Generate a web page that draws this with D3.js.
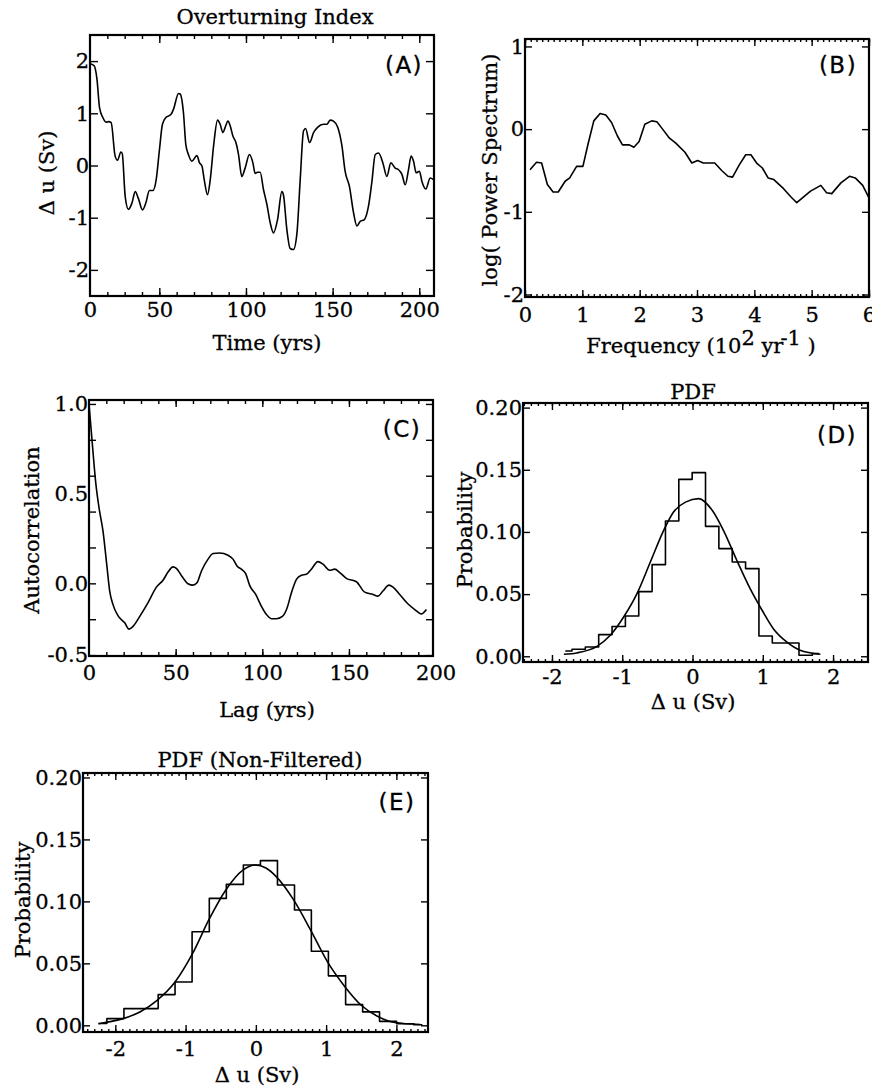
<!DOCTYPE html>
<html>
<head>
<meta charset="utf-8">
<script src="https://cdn.jsdelivr.net/npm/d3@7"></script>
<style>
  body { margin: 0; background: #fff; }
  svg { display: block; }
  text { stroke: #000; stroke-width: 0.3px; }
</style>
</head>
<body>
<div id="chart"></div>
<script>
// (A) overturning index
const timeYrs = [10.2, 12.4, 14.0, 15.5, 17.4, 19.3, 20.7, 22.2, 24.5, 25.9, 27.8, 28.6, 30.3, 32.2, 34.2,
  36.1, 38.0, 40.3, 42.2, 44.3, 46.3, 48.2, 50.1, 51.8, 53.8, 56.8, 58.2, 61.1, 62.0, 63.9, 65.3, 66.8, 68.8,
  71.7, 73.2, 74.6, 75.9, 77.8, 79.4, 81.3, 83.6, 85.1, 86.7, 88.0, 89.6, 90.9, 92.4, 94.2, 95.7, 97.6, 99.5,
  102.0, 104.0, 105.3, 106.6, 108.2, 110.1, 112.1, 114.0, 115.9, 118.2, 120.7, 121.6, 123.6, 125.5, 127.4,
  129.4, 131.3, 133.2, 134.4, 136.7, 139.0, 141.3, 144.7, 146.7, 148.6, 150.5, 153.0, 155.4, 157.2, 159.7,
  162.1, 164.0, 165.9, 168.2, 170.7, 172.6, 174.6, 176.5, 179.0, 181.3, 183.6, 186.1, 188.0, 190.0, 191.9,
  193.8, 195.3, 196.7, 198.2, 200.1, 201.5, 203.8, 206.3, 208.2];
const overturning = [1.95, 1.91, 1.66, 1.11, 0.92, 0.83, 0.84, 0.82, 0.18, 0.10, 0.26, 0.23, -0.59, -0.84, -0.72,
  -0.50, -0.64, -0.85, -0.72, -0.48, -0.48, -0.27, 0.31, 0.79, 0.92, 0.98, 1.08, 1.38, 1.37, 1.02, 0.40, 0.21, 0.08,
  0.19, 0.05, -0.01, -0.27, -0.56, -0.27, 0.37, 0.87, 0.79, 0.63, 0.73, 0.85, 0.76, 0.57, 0.44, 0.21, -0.21, -0.05,
  0.21, 0.05, -0.15, -0.13, -0.13, -0.46, -0.75, -1.10, -1.29, -1.04, -0.50, -0.56, -1.23, -1.59, -1.61,
  -1.30, -0.27, 0.66, 0.71, 0.44, 0.63, 0.73, 0.79, 0.79, 0.87, 0.85, 0.73, 0.37, -0.11, -0.40,
  -0.91, -1.16, -1.07, -1.04, -0.78, -0.33, 0.21, 0.24, 0.05, -0.21, 0.05, -0.05, -0.08, -0.17, -0.37,
  -0.08, 0.18, 0.08, -0.14, -0.11, -0.30, -0.45, -0.24, -0.27];

// (B) power spectrum
const freq = [0.087, 0.20, 0.29, 0.39, 0.49, 0.58, 0.70, 0.78, 0.90, 1.01, 1.10, 1.20, 1.31, 1.41, 1.51,
  1.61, 1.70, 1.82, 1.90, 1.99, 2.09, 2.21, 2.30, 2.40, 2.52, 2.63, 2.79, 2.91, 3.01, 3.11, 3.31, 3.43, 3.54,
  3.62, 3.74, 3.85, 3.94, 4.04, 4.14, 4.24, 4.34, 4.51, 4.64, 4.74, 4.86, 4.98, 5.16, 5.26, 5.35, 5.51, 5.66,
  5.76, 5.89, 6.0];
const logPower = [-0.49, -0.40, -0.41, -0.67, -0.76, -0.76, -0.63, -0.59, -0.45, -0.45, -0.18, 0.10, 0.19, 0.17, 0.08,
  -0.08, -0.19, -0.19, -0.22, -0.15, 0.06, 0.10, 0.09, 0.0, -0.11, -0.17, -0.28, -0.41, -0.38, -0.41, -0.41, -0.50, -0.57,
  -0.58, -0.43, -0.31, -0.31, -0.41, -0.47, -0.59, -0.61, -0.72, -0.82, -0.89, -0.82, -0.75, -0.68, -0.77, -0.78, -0.65, -0.57,
  -0.59, -0.68, -0.83];

// (C) autocorrelation
const lagYrs = [0, 1.9, 3.9, 5.8, 8.1, 10.4, 11.9, 13.9, 16.7, 20.6, 23.1, 25.4, 29.3, 34.0, 38.9, 42.7, 45.6,
  48.5, 50.4, 53.9, 57.1, 60.0, 62.3, 64.9, 68.7, 71.6, 75.4, 80.2, 83.1, 85.4, 87.9, 90.4, 92.7, 96.2, 99.5,
  102.4, 105.2, 108.1, 111.6, 114.3, 116.8, 119.7, 122.6, 125.4, 128.3, 132.1, 135.0, 138.9, 141.8, 144.7,
  148.5, 154.3, 159.1, 163.9, 166.8, 169.6, 173.1, 175.4, 179.3, 184.1, 188.0, 191.8, 194.7];
const autocorr = [1.0, 0.78, 0.56, 0.42, 0.29, 0.09, -0.04, -0.12, -0.18, -0.22, -0.255, -0.24, -0.184, -0.109, -0.021,
  0.017, 0.063, 0.092, 0.084, 0.035, -0.002, -0.01, 0.003, 0.069, 0.135, 0.166, 0.169, 0.157, 0.135, 0.097,
  0.079, 0.054, -0.011, -0.062, -0.128, -0.174, -0.197, -0.197, -0.184, -0.137, -0.053, 0.022, 0.045, 0.05,
  0.079, 0.121, 0.107, 0.073, 0.079, 0.06, 0.028, 0.009, -0.049, -0.062, -0.071, -0.043, -0.01, -0.021,
  -0.062, -0.115, -0.146, -0.171, -0.146];

// (D) PDF, filtered: histogram bin centres / heights, and fitted curve
const binsD = [-1.81, -1.62, -1.43, -1.24, -1.05, -0.86, -0.67, -0.48, -0.29, -0.10,
  0.09, 0.28, 0.47, 0.66, 0.85, 1.04, 1.23, 1.42, 1.61, 1.80];
const histD = [0.0043, 0.0056, 0.0075, 0.0174, 0.024, 0.0324, 0.052, 0.0737, 0.1088, 0.1423,
  0.1477, 0.1045, 0.0866, 0.0758, 0.0705, 0.0163, 0.0107, 0.0107, 0.0008, 0.0021];
const fitXD = [-1.83, -1.65, -1.36, -1.17, -0.98, -0.79, -0.60, -0.41, -0.27, -0.10,
  0.09, 0.28, 0.44, 0.63, 0.82, 0.99, 1.15, 1.34, 1.53, 1.82];
const fitD = [0.0016, 0.0027, 0.008, 0.0169, 0.0316, 0.0504, 0.0758, 0.1013, 0.116, 0.124,
  0.1268, 0.1174, 0.1013, 0.0772, 0.0544, 0.037, 0.0222, 0.0115, 0.0048, 0.0016];

// (E) PDF, non-filtered
const binsE = [-2.24, -2.00, -1.755, -1.51, -1.27, -1.03, -0.785, -0.54, -0.30, -0.055,
  0.185, 0.43, 0.67, 0.91, 1.155, 1.40, 1.64, 1.88, 2.125, 2.37];
const histE = [0.0014, 0.0054, 0.0135, 0.0135, 0.0248, 0.035, 0.0755, 0.1024, 0.1137, 0.1294,
  0.1329, 0.1132, 0.093, 0.0598, 0.0399, 0.0167, 0.0108, 0.0032, 0.0013, 0.0005];
const fitXE = [-2.24, -1.89, -1.65, -1.41, -1.15, -0.90, -0.67, -0.43, -0.18, -0.01,
  0.15, 0.29, 0.54, 0.78, 1.02, 1.27, 1.50, 1.73, 1.98, 2.34];
const fitE = [0.0013, 0.0054, 0.0108, 0.020, 0.035, 0.058, 0.085, 0.109, 0.1254, 0.1294,
  0.1267, 0.120, 0.101, 0.0768, 0.0512, 0.031, 0.0162, 0.0073, 0.0022, 0.0006];

// tick labels
const timeTicks = [10, 50, 100, 150, 200];   // the figure prints "0" at the left edge
const lagTicks = [0, 50, 100, 150, 200];
const freqTicks = [0, 1, 2, 3, 4, 5, 6];
const duTicks = [-2, -1, 0, 1, 2];
const logTicks = [-2, -1, 0, 1];
const acTicks = [1.0, 0.5, 0.0, -0.4];       // bottom one printed as "-0.5"
const probTicks = [0, 0.05, 0.10, 0.15, 0.20];

const serif = "'DejaVu Serif', 'Liberation Serif', serif";
const tickFont = 21, titleFont = 21;
const W = 872, H = 1086;

const svg = d3.select("#chart").append("svg")
  .attr("width", W).attr("height", H);
svg.append("rect").attr("width", W).attr("height", H).attr("fill", "#fff");

function panel(o) {
  const g = svg.append("g");
  const x = d3.scaleLinear().domain(o.xDomain).range([o.left, o.right]);
  const y = d3.scaleLinear().domain(o.yDomain).range([o.bottom, o.top]);

  // inward tick marks on all four sides
  function marks(axis, tr, vals, size) {
    g.append("g").attr("transform", tr)
      .call(axis.tickValues(vals).tickSize(-size).tickFormat(""))
      .call(s => s.select(".domain").remove())
      .selectAll("line").attr("stroke", "#000").attr("stroke-width", 1.4);
  }
  [[d3.axisBottom(x), `translate(0,${o.bottom})`], [d3.axisTop(x), `translate(0,${o.top})`]].forEach(([a, tr]) => {
    marks(a, tr, o.xMinor, o.minorLen);
    marks(a, tr, o.xMajor, o.majorLen);
  });
  marks(d3.axisLeft(y), `translate(${o.left},0)`, o.yMajor, o.majorLen);
  marks(d3.axisRight(y), `translate(${o.right},0)`, o.yMajor, o.majorLen);

  // tick labels
  g.append("g").attr("transform", `translate(0,${o.bottom})`)
    .call(d3.axisBottom(x).tickValues(o.xLabels).tickSize(0).tickPadding(o.xPad).tickFormat(o.xFormat))
    .call(s => s.select(".domain").remove())
    .attr("font-family", serif).attr("font-size", tickFont);
  g.append("g").attr("transform", `translate(${o.left},0)`)
    .call(d3.axisLeft(y).tickValues(o.yLabels).tickSize(0).tickPadding(1).tickFormat(o.yFormat))
    .call(s => s.select(".domain").remove())
    .attr("font-family", serif).attr("font-size", tickFont);

  // frame
  g.append("rect")
    .attr("x", o.left).attr("y", o.top)
    .attr("width", o.right - o.left).attr("height", o.bottom - o.top)
    .attr("fill", "none").attr("stroke", "#000").attr("stroke-width", 2.2);

  // panel letter
  g.append("text")
    .attr("x", o.tag[1]).attr("y", o.tag[2])
    .attr("text-anchor", "middle")
    .attr("font-family", "'DejaVu Sans', sans-serif")
    .attr("font-size", 23).attr("letter-spacing", 1.5)
    .text(o.tag[0]);

  // axis titles
  if (o.xTitle) {
    g.append("text")
      .attr("x", o.xTitle[1]).attr("y", o.xTitle[2])
      .attr("text-anchor", "middle")
      .attr("font-family", serif).attr("font-size", titleFont)
      .text(o.xTitle[0]);
  }
  g.append("text")
    .attr("transform", `translate(${o.yTitle[1]},${o.yTitle[2]}) rotate(-90)`)
    .attr("text-anchor", "middle").attr("dy", "0.35em")
    .attr("font-family", serif).attr("font-size", titleFont)
    .text(o.yTitle[0]);
  if (o.title) {
    g.append("text")
      .attr("x", o.title[1]).attr("y", o.title[2])
      .attr("text-anchor", "middle")
      .attr("font-family", serif).attr("font-size", titleFont)
      .text(o.title[0]);
  }
  return { g, x, y };
}

function drawLine(p, xs, ys, curve) {
  p.g.append("path")
    .datum(d3.range(xs.length))
    .attr("fill", "none").attr("stroke", "#000").attr("stroke-width", 1.6)
    .attr("stroke-linejoin", "round")
    .attr("d", d3.line().x(i => p.x(xs[i])).y(i => p.y(ys[i])).curve(curve));
}

const fmt2 = d3.format(".2f");

// ---- (A) ----
const pA = panel({
  left: 90, right: 434, top: 35, bottom: 296,
  xDomain: [10, 208.5], yDomain: [-2.5, 2.5],
  xMinor: d3.range(20, 209, 10), xMajor: [50, 100, 150, 200],
  yMajor: duTicks, minorLen: 4, majorLen: 8,
  xLabels: timeTicks, xFormat: d => d === 10 ? "0" : d, xPad: 6,
  yLabels: duTicks, yFormat: d => d,
  tag: ["(A)", 404, 73],
  xTitle: ["Time (yrs)", 267, 350],
  yTitle: ["Δ u (Sv)", 47, 173],
  title: ["Overturning Index", 275, 24]
});
drawLine(pA, timeYrs, overturning, d3.curveMonotoneX);

// ---- (B) ----
const pB = panel({
  left: 525, right: 869, top: 39, bottom: 297,
  xDomain: [0, 6], yDomain: [-2.03, 1.09],
  xMinor: d3.range(0, 6.001, 0.1), xMajor: freqTicks,
  yMajor: logTicks, minorLen: 3, majorLen: 7,
  xLabels: freqTicks, xFormat: d => d, xPad: 10,
  yLabels: logTicks, yFormat: d => d,
  tag: ["(B)", 838, 73],
  xTitle: null,
  yTitle: ["log( Power Spectrum)", 490, 170]
});
drawLine(pB, freq, logPower, d3.curveLinear);
const fTitle = pB.g.append("text")
  .attr("x", 701).attr("y", 353)
  .attr("text-anchor", "middle")
  .attr("font-family", serif).attr("font-size", titleFont);
fTitle.append("tspan").text("Frequency (10");
fTitle.append("tspan").attr("dy", -8).text("2");
fTitle.append("tspan").attr("dy", 8).text(" yr");
fTitle.append("tspan").attr("dy", -8).attr("dx", -3).text("-1");
fTitle.append("tspan").attr("dy", 8).text(" )");

// ---- (C) ----
const pC = panel({
  left: 89, right: 433, top: 400, bottom: 656,
  xDomain: [0, 198.5], yDomain: [-0.405, 1.022],
  xMinor: d3.range(10, 199, 10), xMajor: [50, 100, 150],
  yMajor: d3.range(-0.4, 1.001, 0.2), minorLen: 4, majorLen: 7,
  xLabels: lagTicks, xFormat: d => d, xPad: 9,
  yLabels: acTicks, yFormat: d => d < -0.3 ? "-0.5" : d3.format(".1f")(d),
  tag: ["(C)", 402, 437],
  xTitle: ["Lag (yrs)", 267, 717],
  yTitle: ["Autocorrelation", 32, 530]
});
drawLine(pC, lagYrs, autocorr, d3.curveMonotoneX);

// ---- (D) ----
const pD = panel({
  left: 523, right: 868, top: 403, bottom: 662,
  xDomain: [-2.412, 2.497], yDomain: [-0.0046, 0.2037],
  xMinor: d3.range(-2.4, 2.5, 0.1), xMajor: duTicks,
  yMajor: probTicks, minorLen: 3, majorLen: 7,
  xLabels: duTicks, xFormat: d => d, xPad: 7,
  yLabels: probTicks, yFormat: fmt2,
  tag: ["(D)", 837, 443],
  xTitle: ["Δ u (Sv)", 693, 709],
  yTitle: ["Probability", 465, 530],
  title: ["PDF", 693, 399]
});
drawLine(pD, binsD, histD, d3.curveStep);
drawLine(pD, fitXD, fitD, d3.curveMonotoneX);

// ---- (E) ----
const pE = panel({
  left: 83, right: 428, top: 773, bottom: 1032,
  xDomain: [-2.46, 2.45], yDomain: [-0.0054, 0.2036],
  xMinor: d3.range(-2.4, 2.45, 0.1), xMajor: duTicks,
  yMajor: probTicks, minorLen: 3, majorLen: 7,
  xLabels: duTicks, xFormat: d => d, xPad: 9,
  yLabels: probTicks, yFormat: fmt2,
  tag: ["(E)", 397, 810],
  xTitle: ["Δ u (Sv)", 257, 1082],
  yTitle: ["Probability", 23, 900],
  title: ["PDF (Non-Filtered)", 260, 767]
});
drawLine(pE, binsE, histE, d3.curveStep);
drawLine(pE, fitXE, fitE, d3.curveMonotoneX);
</script>
</body>
</html>
